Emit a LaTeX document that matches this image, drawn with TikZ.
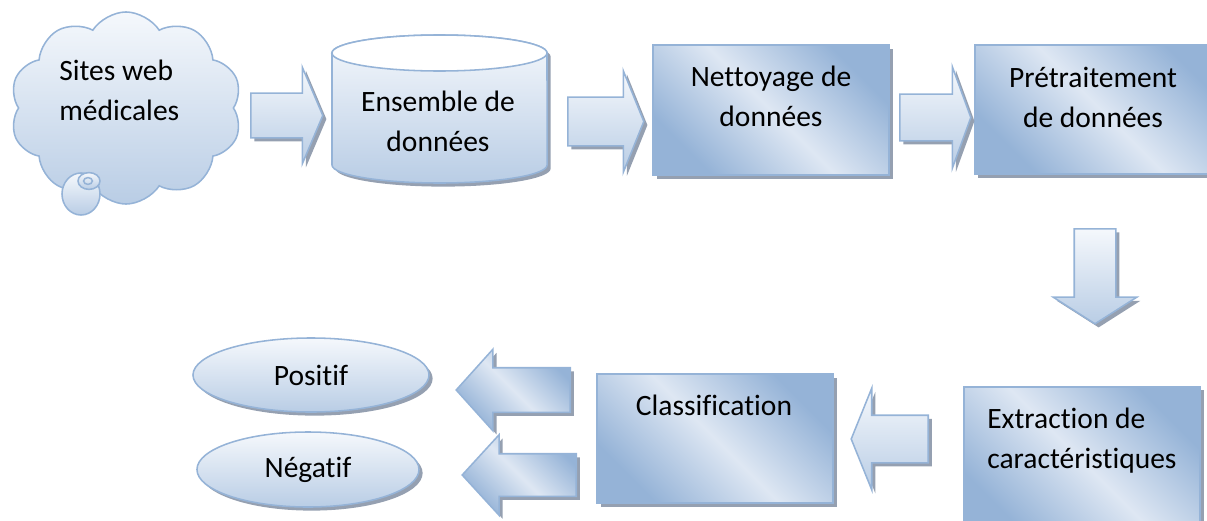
\documentclass[tikz,border=0pt]{standalone}
\usepackage{fontspec}
\setmainfont{Carlito}[Ligatures=CommonOff]
\usetikzlibrary{positioning,shapes.geometric,shapes.symbols,shapes.arrows,shadows}

\definecolor{edgeblue}{RGB}{149,179,215}
\definecolor{lightfill}{RGB}{245,248,252}
\definecolor{darkfill}{RGB}{185,205,229}
\definecolor{boxdark}{RGB}{149,179,215}
\definecolor{boxlight}{RGB}{222,231,243}
\definecolor{shadowgray}{RGB}{138,150,168}

\pgfdeclarehorizontalshading{diagshade}{100bp}{color(0bp)=(boxdark); color(26bp)=(boxdark); color(50bp)=(boxlight); color(74bp)=(boxdark); color(100bp)=(boxdark)}

\tikzset{
  softshadow/.style={drop shadow={shadow xshift=0.09cm, shadow yshift=-0.09cm, fill=shadowgray, opacity=0.9}},
  vfill/.style={draw=edgeblue, line width=1.1pt, top color=lightfill, bottom color=darkfill},
  stepbox/.style={draw=edgeblue, line width=1.1pt, shading=diagshade, shading angle=45, softshadow, minimum width=5.9cm, minimum height=3.25cm, inner sep=0pt},
  blockarrow/.style={vfill, softshadow, single arrow, anchor=tail, inner xsep=0pt, text height=0pt, text depth=0pt, minimum width=0pt, single arrow head indent=0pt},
  lbl/.style={align=center, inner sep=0pt},
  drumend/.style={x radius=2.6875cm, y radius=0.45cm},
}

\begin{document}
\begin{tikzpicture}[x=0.025cm, y=-0.025cm, font=\fontsize{21}{28.5}\selectfont]
		\useasboundingbox (0,0) rectangle (1207,520);

		% Source
		\node[cloud, cloud puffs=10, cloud puff arc=115, aspect=1.2, minimum width=5.8cm, minimum height=4.8cm, inner sep=0pt, vfill] (web) at (126,108) {};
		\node[ellipse, vfill, minimum width=0.95cm, minimum height=1.05cm, inner sep=0pt] (bubble) at (81,194) {};
		\node[ellipse, vfill, minimum width=0.55cm, minimum height=0.42cm, inner sep=0pt] (bubbletop) at (89,181) {};
		\node[ellipse, draw=edgeblue, line width=1.1pt, minimum width=0.22cm, minimum height=0.17cm, inner sep=0pt] (bubbleeye) at (88,181) {};
		\node[lbl, align=left, anchor=west] (webtxt) at (59,90) {Sites web\\médicales};

		% Data set (drum)
		\coordinate (datatl) at (332,53);
		\coordinate (databl) at (332,165);
		\coordinate (datatr) at (547,53);
		\coordinate (datatop) at (439.5,53);
		\path[vfill, softshadow] (datatl) -- (databl) arc[start angle=180, end angle=360, drumend] -- (datatr) arc[start angle=0, end angle=180, drumend] -- cycle;
		\draw[draw=edgeblue, line width=1.1pt, fill=white] (datatop) ellipse[drumend];
		\node[lbl] (data) at (438,121.5) {Ensemble de\\données};

		% Processing steps
		\node[stepbox] (clean) at (771,110) {};
		\node[lbl] (cleantxt) at ([yshift=-1.31cm]clean.north) {Nettoyage de\\données};
		\node[stepbox, anchor=west, minimum width=6.3cm, minimum height=3.225cm] (prep) at (974,109.5) {};
		\node[lbl] (preptxt) at (1093,97.5) {Prétraitement\\de données};
		\node[stepbox, anchor=north, minimum height=3.7cm] (feat) at (1082,386) {};
		\node[lbl, align=left, anchor=west] (feattxt) at (987,441) {Extraction de\\caractéristiques};
		\node[stepbox, minimum height=3.225cm] (classif) at (715,438.5) {};
		\node[lbl] (classiftxt) at (714,405) {Classification};

		% Results
		\node[ellipse, vfill, softshadow, minimum width=5.9cm, minimum height=1.85cm, inner sep=0pt] (pos) at (311,375) {Positif};
		\node[ellipse, vfill, softshadow, minimum width=5.55cm, minimum height=1.875cm, inner sep=0pt] (neg) at (308,469.5) {Négatif};

		% Block arrows
		\node[blockarrow, minimum height=1.8cm, inner ysep=0.5375cm, single arrow head extend=0.65cm, single arrow tip angle=134] (a1) at (250,115.5) {};
		\node[blockarrow, minimum height=1.9cm, inner ysep=0.5875cm, single arrow head extend=0.6625cm, single arrow tip angle=136] (a2) at (567,121.5) {};
		\node[blockarrow, minimum height=1.775cm, inner ysep=0.5625cm, single arrow head extend=0.6875cm, single arrow tip angle=140] (a3) at (899,117.5) {};
		\node[blockarrow, shape border rotate=270, minimum height=2.375cm, inner xsep=0.5cm, inner ysep=0pt, single arrow head extend=0.525cm, single arrow tip angle=115] (a4) at (1095,228) {};
		\node[blockarrow, shape border rotate=180, minimum height=1.925cm, inner ysep=0.575cm, single arrow head extend=0.675cm, single arrow tip angle=136] (a5) at (929,439) {};
		\node[blockarrow, shape border rotate=180, shading=diagshade, shading angle=45, minimum height=2.85cm, inner ysep=0.5375cm, single arrow head extend=0.4625cm, single arrow tip angle=96] (a6) at (571,390) {};
		\node[blockarrow, shape border rotate=180, shading=diagshade, shading angle=45, minimum height=2.85cm, inner ysep=0.5125cm, single arrow head extend=0.475cm, single arrow tip angle=95] (a7) at (577,475) {};
	\end{tikzpicture}
\end{document}
